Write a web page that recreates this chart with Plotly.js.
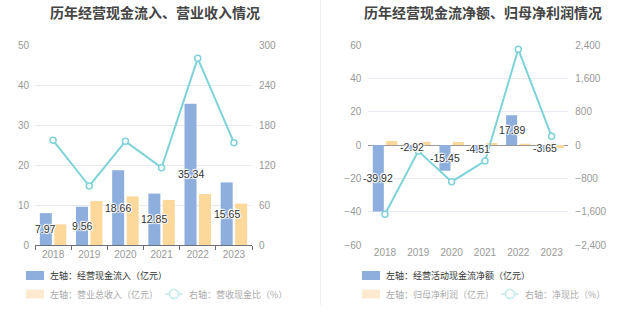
<!DOCTYPE html>
<html><head><meta charset="utf-8">
<script src="https://cdn.plot.ly/plotly-3.0.1.min.js"></script>
<style>html,body{margin:0;padding:0;background:#fff}#chart{width:637px;height:327px}</style>
</head><body><div id="chart"></div>
<script>
// ---- data ----
const years = ['2018', '2019', '2020', '2021', '2022', '2023'];
const cashInflow = [7.97, 9.56, 18.66, 12.85, 35.34, 15.65];          // 经营现金流入 (亿元)
const revenue = [5.15, 11.0, 12.15, 11.25, 12.75, 10.35];             // 营业总收入 (亿元)
const inflowRevenueRatio = [157, 88.5, 155.5, 116, 280, 153.5];       // 营收现金比 (%)
const netCashFlow = [-39.92, -2.92, -15.45, -4.51, 17.89, -3.65];     // 经营活动现金流净额 (亿元)
const netProfit = [2.4, 2.0, 1.8, 1.17, 0.78, -1.75];                 // 归母净利润 (亿元)
const netCashProfitRatio = [-1664, -144, -880, -384, 2296, 208];      // 净现比 (%)

const titleLeft = '历年经营现金流入、营业收入情况';
const titleRight = '历年经营现金流净额、归母净利润情况';
const legendLeft = ['左轴：经营现金流入（亿元）', '左轴：营业总收入（亿元）', '右轴：营收现金比（%）'];
const legendRight = ['左轴：经营活动现金流净额（亿元）', '左轴：归母净利润（亿元）', '右轴：净现比（%）'];

// ---- styles ----
const W = 637, H = 327;
const BLUE = '#8eafdd', ORANGE = '#fdd89b', TEAL = '#7dd3d7';
const BLUE_L = '#8eafdd', ORANGE_L = '#feead0', TEAL_L = '#bfe9eb';
const GRID = '#e6e9f2';
const FONT = 'Liberation Sans, Noto Sans CJK SC, sans-serif';
const CJK = 'Noto Sans CJK SC, sans-serif';
const X = p => p / W, Y = p => 1 - p / H;
const yDom = [Y(245), Y(45)];
const BARGAP = 0.2;
const leftPx = [35, 252], rightPx = [368.3, 568.3];
const halo = '1px 0 1px #fff, -1px 0 1px #fff, 0 1px 1px #fff, 0 -1px 1px #fff, 1px 1px 1px #fff, -1px -1px 1px #fff';
const labelFont = {family: FONT, size: 10.5, color: '#333', shadow: halo};

function barTrace(xa, ya, y, color) {
  return {type: 'bar', x: years, y: y, xaxis: xa, yaxis: ya, marker: {color: color}, hoverinfo: 'skip'};
}
function lineTrace(xa, ya, y) {
  return {type: 'scatter', mode: 'lines+markers', x: years, y: y, xaxis: xa, yaxis: ya,
    line: {color: TEAL, width: 2}, marker: {size: 6, color: '#fff', line: {color: TEAL, width: 1.5}},
    hoverinfo: 'skip', cliponaxis: false};
}

const data = [
  barTrace('x', 'y', cashInflow, BLUE),
  barTrace('x', 'y', revenue, ORANGE),
  lineTrace('x', 'y2', inflowRevenueRatio),
  barTrace('x2', 'y3', netCashFlow, BLUE),
  barTrace('x2', 'y3', netProfit, ORANGE),
  lineTrace('x2', 'y4', netCashProfitRatio)
];

const tickFont = {family: FONT, size: 10, color: '#999'};
const shapes = [
  {type: 'line', xref: 'paper', yref: 'paper', x0: X(320.5), x1: X(320.5), y0: Y(0), y1: Y(305), line: {color: '#eeeeee', width: 1}}
];
const annotations = [
  {xref: 'paper', yref: 'paper', x: X(155), y: Y(12), text: '<b>' + titleLeft + '</b>', showarrow: false,
   xanchor: 'center', yanchor: 'middle', font: {family: CJK, size: 14, color: '#444'}},
  {xref: 'paper', yref: 'paper', x: X(482.5), y: Y(12), text: '<b>' + titleRight + '</b>', showarrow: false,
   xanchor: 'center', yanchor: 'middle', font: {family: CJK, size: 14, color: '#444'}}
];

// data labels at the middle of the first (blue) bar of each group (x given as category index)
function addBarLabels(xa, ya, values, px) {
  const catW = (px[1] - px[0]) / years.length;
  const shift = -catW * (1 - BARGAP) / 4;
  values.forEach((v, i) => {
    annotations.push({xref: xa, yref: ya, x: i, y: v / 2, text: v.toFixed(2), showarrow: false,
      xanchor: 'center', yanchor: 'middle', xshift: shift, font: labelFont});
  });
}
addBarLabels('x', 'y', cashInflow, leftPx);
addBarLabels('x2', 'y3', netCashFlow, rightPx);

function addLegend(x0, lineX, labels) {
  shapes.push({type: 'rect', xref: 'paper', yref: 'paper', x0: X(x0), x1: X(x0 + 18), y0: Y(280), y1: Y(271), fillcolor: BLUE_L, line: {width: 0}});
  annotations.push({xref: 'paper', yref: 'paper', x: X(x0 + 22), y: Y(275.5), text: labels[0], showarrow: false,
    xanchor: 'left', yanchor: 'middle', font: {family: CJK, size: 9, color: '#333'}});
  shapes.push({type: 'rect', xref: 'paper', yref: 'paper', x0: X(x0), x1: X(x0 + 18), y0: Y(298.5), y1: Y(289.5), fillcolor: ORANGE_L, line: {width: 0}});
  annotations.push({xref: 'paper', yref: 'paper', x: X(x0 + 22), y: Y(294), text: labels[1], showarrow: false,
    xanchor: 'left', yanchor: 'middle', font: {family: CJK, size: 9, color: '#aaa'}});
  shapes.push({type: 'line', xref: 'paper', yref: 'paper', x0: X(lineX), x1: X(lineX + 18), y0: Y(294), y1: Y(294), line: {color: TEAL_L, width: 1.5}});
  shapes.push({type: 'circle', xref: 'paper', yref: 'paper', x0: X(lineX + 4.5), x1: X(lineX + 13.5), y0: Y(298.5), y1: Y(289.5), fillcolor: '#fff', line: {color: TEAL_L, width: 1.5}});
  annotations.push({xref: 'paper', yref: 'paper', x: X(lineX + 22), y: Y(294), text: labels[2], showarrow: false,
    xanchor: 'left', yanchor: 'middle', font: {family: CJK, size: 9, color: '#aaa'}});
}
addLegend(26, 165, legendLeft);
addLegend(362, 501, legendRight);

const layout = {
  width: W, height: H, margin: {l: 0, r: 0, t: 0, b: 0},
  paper_bgcolor: '#fff', plot_bgcolor: 'rgba(0,0,0,0)',
  showlegend: false, barmode: 'group', bargap: BARGAP, bargroupgap: 0.17,
  font: {family: FONT, size: 10, color: '#999'},
  xaxis: {domain: [X(leftPx[0]), X(leftPx[1])], anchor: 'y', type: 'category', range: [-0.5, years.length - 0.5],
    showgrid: false, zeroline: false,
    showline: true, linecolor: '#6e7079', linewidth: 1, ticks: 'outside', tickson: 'boundaries', ticklen: 4,
    tickcolor: '#6e7079', tickfont: tickFont, fixedrange: true},
  yaxis: {domain: yDom, anchor: 'x', range: [0, 50], tick0: 0, dtick: 10, showgrid: true, gridcolor: GRID,
    zeroline: false, showline: false, ticks: '', ticklabelstandoff: 5, tickfont: tickFont, fixedrange: true},
  yaxis2: {overlaying: 'y', side: 'right', anchor: 'x', range: [0, 300], tick0: 0, dtick: 60, showgrid: false,
    zeroline: false, showline: false, ticks: '', ticklabelstandoff: 6, tickfont: tickFont, fixedrange: true},
  xaxis2: {domain: [X(rightPx[0]), X(rightPx[1])], anchor: 'y3', type: 'category', range: [-0.5, years.length - 0.5],
    showgrid: false, zeroline: false,
    showline: false, ticks: '', tickfont: tickFont, fixedrange: true},
  yaxis3: {domain: yDom, anchor: 'x2', range: [-60, 60], tick0: 0, dtick: 20, showgrid: true, gridcolor: GRID,
    zeroline: true, zerolinecolor: '#999', zerolinewidth: 1, showline: false, ticks: '', ticklabelstandoff: 6,
    tickfont: tickFont, fixedrange: true},
  yaxis4: {overlaying: 'y3', side: 'right', anchor: 'x2', range: [-2400, 2400], tick0: 0, dtick: 800, tickformat: ',',
    showgrid: false, zeroline: false, showline: false, ticks: '', ticklabelstandoff: 6, tickfont: tickFont, fixedrange: true},
  shapes: shapes,
  annotations: annotations
};

Plotly.newPlot('chart', data, layout, {displayModeBar: false, staticPlot: true});
</script>
</body></html>
